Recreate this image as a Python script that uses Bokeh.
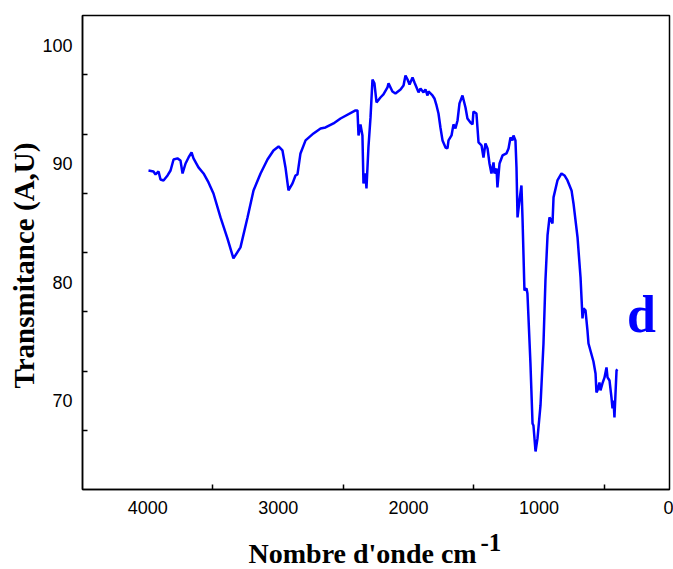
import math
from bokeh.plotting import figure
from bokeh.models import FixedTicker, Range1d, Label, Title
from bokeh.embed import file_html
from bokeh.resources import INLINE

# Wavenumber (cm^-1) and transmittance (A,U)
wavenumber = [
    3994, 3956, 3940, 3917, 3902, 3879, 3848, 3825, 3802, 3772, 3749, 3733, 3710, 3687,
    3664, 3649, 3611, 3572, 3534, 3496, 3442, 3389, 3343, 3289, 3235, 3189, 3135, 3082,
    3036, 2997, 2967, 2944, 2921, 2890, 2867, 2852, 2829, 2790, 2729, 2675, 2637, 2576,
    2522, 2407, 2392, 2384, 2369, 2354, 2346, 2331, 2323, 2308, 2292, 2277, 2262, 2246,
    2216, 2193, 2162, 2154, 2124, 2101, 2062, 2039, 2024, 2008, 1993, 1970, 1955, 1939,
    1924, 1909, 1886, 1871, 1855, 1848, 1817, 1802, 1786, 1771, 1756, 1740, 1717, 1702,
    1694, 1671, 1656, 1641, 1625, 1610, 1587, 1564, 1549, 1526, 1510, 1503, 1480, 1464,
    1441, 1426, 1411, 1395, 1380, 1365, 1349, 1342, 1326, 1319, 1303, 1280, 1250, 1234,
    1219, 1204, 1196, 1181, 1173, 1165, 1150, 1135, 1127, 1112, 1096, 1089, 1066, 1050,
    1043, 1027, 1012, 989, 966, 951, 935, 920, 897, 889, 859, 828, 805, 782, 751, 736,
    705, 682, 667, 659, 644, 629, 621, 583, 567, 560, 552, 537, 529, 514, 498, 483, 475,
    460, 445, 437, 429, 422, 414, 406, 399,
]
transmittance = [
    89.42, 89.34, 89.09, 89.34, 88.66, 88.58, 89.00, 89.42, 90.35, 90.44, 90.27, 89.17, 90.01, 90.52,
    90.94, 90.44, 89.68, 89.17, 88.41, 87.48, 85.46, 83.69, 82.00, 82.93, 85.46, 87.74, 89.17, 90.35,
    91.11, 91.45, 91.11, 89.68, 87.74, 88.33, 89.00, 89.09, 90.86, 91.96, 92.55, 92.97, 93.05, 93.39,
    93.81, 94.49, 94.49, 92.38, 93.31, 92.38, 88.33, 89.17, 87.91, 91.37, 93.90, 97.10, 96.77, 95.16,
    95.58, 95.84, 96.43, 96.77, 96.09, 95.92, 96.26, 96.60, 97.44, 97.10, 96.68, 97.27, 96.85, 96.43,
    96.01, 96.34, 96.01, 96.26, 95.75, 96.09, 95.75, 95.50, 94.91, 94.23, 93.05, 91.96, 91.36, 91.28,
    91.96, 92.38, 93.31, 92.97, 93.64, 95.08, 95.75, 94.74, 93.81, 93.47, 93.31, 94.40, 94.23, 91.79,
    91.54, 90.52, 91.70, 91.28, 90.01, 89.17, 90.10, 89.17, 89.59, 87.99, 90.01, 90.69, 90.86, 91.28,
    92.21, 91.96, 92.38, 91.96, 89.68, 85.46, 86.89, 88.16, 85.46, 79.30, 79.47, 79.04, 73.14, 68.07,
    67.90, 65.71, 66.81, 69.59, 74.82, 80.14, 83.94, 85.46, 84.95, 87.15, 88.58, 89.17, 89.00, 88.58, 87.74, 86.64,
    83.77, 80.39, 76.94, 77.78, 77.61, 75.92, 74.82, 73.30, 72.29, 70.69, 70.86, 71.53, 70.86, 71.45, 71.96, 72.80, 71.96,
    71.70, 70.27, 69.34, 70.01, 68.58, 70.60, 72.55, 72.63,
]

x_tick_labels = [4000, 3000, 2000, 1000, 0]
x_minor = [3500, 2500, 1500, 500]
y_tick_labels = [100, 90, 80, 70]
y_minor = [97.5, 92.5, 87.5, 82.5, 77.5, 72.5, 67.5]

p = figure(width=673, height=569, output_backend="svg", toolbar_location=None,
           x_range=Range1d(4500, 0), y_range=Range1d(62.5, 102.5),
           min_border_left=82, min_border_right=4, min_border_top=15, min_border_bottom=80)

p.line(wavenumber, transmittance, line_color="#0000FF", line_width=2.5)

p.grid.visible = False
p.outline_line_color = "black"
p.outline_line_width = 1.5
p.background_fill_color = "white"
p.border_fill_color = "white"

for ax, ticks, minor in ((p.xaxis[0], x_tick_labels, x_minor), (p.yaxis[0], y_tick_labels, y_minor)):
    ax.ticker = FixedTicker(ticks=ticks, minor_ticks=minor)
    ax.major_tick_line_color = None
    ax.major_tick_in = 0
    ax.major_tick_out = 0
    ax.minor_tick_line_color = "black"
    ax.minor_tick_line_width = 1.5
    ax.minor_tick_in = 5
    ax.minor_tick_out = 0
    ax.axis_line_color = "black"
    ax.axis_line_width = 1.5
    ax.major_label_text_font = "Liberation Sans"
    ax.major_label_text_font_size = "18px"
    ax.major_label_text_color = "black"

p.xaxis[0].major_label_standoff = 11
p.yaxis[0].major_label_standoff = 10

serif = "Liberation Serif"
p.add_layout(Title(text="Transmitance (A,U)", align="left", offset=101, standoff=0,
                   vertical_align="bottom",
                   text_font=serif, text_font_style="bold", text_font_size="29px",
                   text_color="black"), "left")
# x-axis title (placed in the bottom panel so that it is not clipped to the frame)
p.add_layout(Label(x=3227, y=57.14, text="Nombre d'onde cm",
                   text_font=serif, text_font_style="bold", text_font_size="28px",
                   text_align="left", text_baseline="middle", text_color="black"), "below")
# superscript of the unit
p.add_layout(Title(text="-1", align="left", offset=398, standoff=-28,
                   vertical_align="top",
                   text_font=serif, text_font_style="bold", text_font_size="25px",
                   text_color="black"), "below")
p.add_layout(Label(x=214, y=77.23, text="d",
                   text_font=serif, text_font_style="bold", text_font_size="52px",
                   text_align="center", text_baseline="middle", text_color="#0000FF"))

open("out.html", "w").write(file_html(p, INLINE))
